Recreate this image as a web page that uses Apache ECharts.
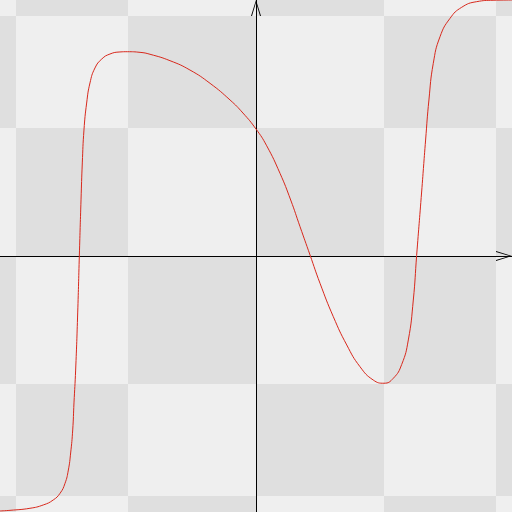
<!DOCTYPE html>
<html>
<head>
<meta charset="utf-8">
<script src="https://cdn.jsdelivr.net/npm/echarts@6/dist/echarts.min.js"></script>
<style>html,body{margin:0;padding:0;background:#fff}#main{width:512px;height:512px}</style>
</head>
<body>
<div id="main"></div>
<script>
// Checkerboard cell boundaries (data units)
var xBreaks = [-2, -1.875, -1, 0, 1, 1.875, 2];
var yBreaks = [2, 1.875, 1, 0, -1, -1.875, -2];

// Curve values
var curveX = [-2, -1.922, -1.766, -1.662, -1.584, -1.531, -1.492, -1.466, -1.448, -1.432, -1.422, -1.409, -1.393, -1.380, -1.367, -1.357, -1.344, -1.323, -1.297, -1.258, -1.205, -1.141, -1.063, -1.005, -0.906, -0.828, -0.672, -0.516, -0.359, -0.203, -0.102, 0, 0.0836, 0.1875, 0.271, 0.344, 0.422, 0.5, 0.604, 0.709, 0.8125, 0.916, 1.0, 1.073, 1.138, 1.190, 1.229, 1.255, 1.294, 1.325, 1.351, 1.385, 1.4375, 1.516, 1.607, 1.724, 1.852, 2.0];
var curveY = [-1.992, -1.987, -1.971, -1.945, -1.906, -1.854, -1.776, -1.672, -1.539, -1.359, -1.148, -0.891, -0.445, 0.008, 0.438, 0.727, 0.984, 1.195, 1.352, 1.469, 1.539, 1.578, 1.594, 1.596, 1.591, 1.576, 1.526, 1.453, 1.349, 1.219, 1.117, 0.992, 0.861, 0.646, 0.4375, 0.229, 0.008, -0.213, -0.474, -0.695, -0.865, -0.969, -0.994, -0.955, -0.848, -0.656, -0.344, 0.004, 0.500, 0.906, 1.219, 1.505, 1.713, 1.857, 1.943, 1.987, 1.998, 2.0];

var cells = [];
for (var i = 0; i < xBreaks.length - 1; i++) {
  for (var j = 0; j < yBreaks.length - 1; j++) {
    cells.push([xBreaks[i], xBreaks[i + 1], yBreaks[j], yBreaks[j + 1], (i + j) % 2]);
  }
}
var curve = curveX.map(function (x, k) { return [x, curveY[k]]; });

var chart = echarts.init(document.getElementById('main'));
var arrowPath = 'path://M5,0L10,16L9,16L5,2.5L1,16L0,16Z';
var axisCommon = {
  type: 'value', min: -2, max: 2,
  axisLabel: { show: false }, axisTick: { show: false }, splitLine: { show: false },
  axisLine: { onZero: true, lineStyle: { color: '#000', width: 1 }, symbol: ['none', arrowPath], symbolSize: [10, 16], symbolOffset: [0, -8] },
  z: 5
};
chart.setOption({
  animation: false,
  grid: { left: 0, right: 0, top: 0, bottom: 0, containLabel: false },
  xAxis: axisCommon,
  yAxis: axisCommon,
  series: [{
    type: 'custom',
    silent: true,
    z: 0,
    data: cells,
    renderItem: function (params, api) {
      var p0 = api.coord([api.value(0), api.value(2)]);
      var p1 = api.coord([api.value(1), api.value(3)]);
      return {
        type: 'rect',
        shape: { x: Math.min(p0[0], p1[0]), y: Math.min(p0[1], p1[1]), width: Math.abs(p1[0] - p0[0]), height: Math.abs(p1[1] - p0[1]) },
        style: { fill: api.value(4) ? '#dfdfdf' : '#efefef' }
      };
    }
  }, {
    type: 'line',
    data: curve,
    showSymbol: false,
    smooth: 0.5,
    z: 10,
    lineStyle: { color: '#d8281c', width: 1 }
  }]
});
</script>
</body>
</html>
